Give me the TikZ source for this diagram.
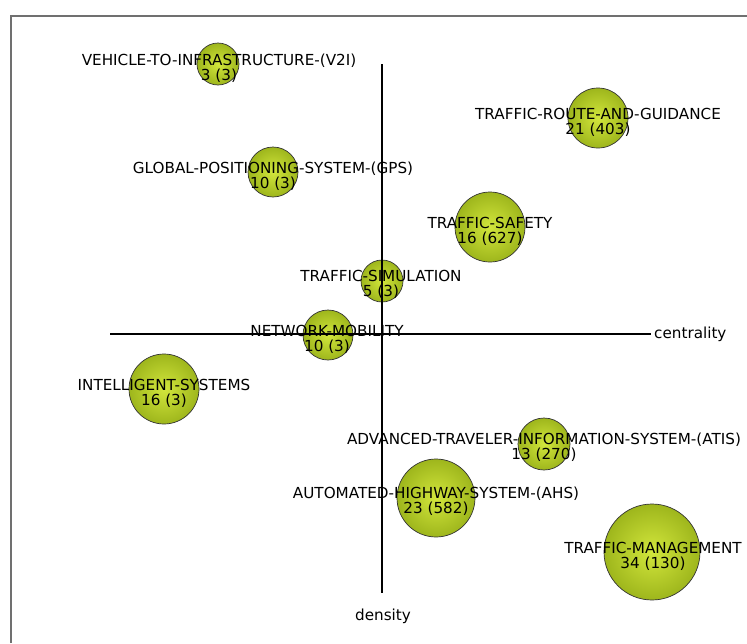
\documentclass[tikz,border=0pt]{standalone}
\usepackage{fontspec}
\setmainfont{DejaVu Sans}
\definecolor{bubin}{RGB}{210,230,60}
\definecolor{bubout}{RGB}{158,182,28}
\definecolor{framegray}{RGB}{112,112,112}
\begin{document}
\begin{tikzpicture}[x=1pt,y=-1pt,
  bubble/.style={circle, draw=black!80, line width=0.7pt, inner color=bubin, outer color=bubout, minimum size=#1, inner sep=0pt},
  lbl/.style={align=center, font=\fontsize{15.2}{15.2}\selectfont, inner sep=0pt, text=black},
  axis/.style={line width=1.6pt, black}]
\useasboundingbox (0,0) rectangle (747,643);
% frame
\coordinate (fbl) at (11,643);
\coordinate (ftl) at (11,16);
\coordinate (ftr) at (747,16);
\draw[framegray, line width=1.5pt] (fbl) -- (ftl) -- (ftr);
% bubbles
\node[bubble=42] (v2i) at (218,64) {};
\node[bubble=50] (gps) at (273,172) {};
\node[bubble=60] (route) at (598,118) {};
\node[bubble=70] (safety) at (490,227) {};
\node[bubble=42] (sim) at (382,281) {};
\node[bubble=50] (net) at (328,335) {};
\node[bubble=70] (intel) at (164,389) {};
\node[bubble=52] (atis) at (544,444) {};
\node[bubble=78] (ahs) at (436,498) {};
\node[bubble=96] (mgmt) at (652,552) {};
% axes
\coordinate (vtop) at (382,64);
\coordinate (vbot) at (382,593);
\coordinate (hleft) at (110,334);
\coordinate (hright) at (651,334);
\draw[axis] (vtop) -- (vbot);
\draw[axis] (hleft) -- (hright);
\node[lbl, anchor=west] (cent) at (654,334) {centrality};
\node[lbl] (dens) at (383,616) {density};
% labels
\node[lbl] (v2iL) at (219,68) {VEHICLE-TO-INFRASTRUCTURE-(V2I)\\3 (3)};
\node[lbl] (gpsL) at (273,176) {GLOBAL-POSITIONING-SYSTEM-(GPS)\\10 (3)};
\node[lbl] (routeL) at (598,122) {TRAFFIC-ROUTE-AND-GUIDANCE\\21 (403)};
\node[lbl] (safetyL) at (490,231) {TRAFFIC-SAFETY\\16 (627)};
\node[lbl] (simL) at (381,284.5) {TRAFFIC-SIMULATION\\5 (3)};
\node[lbl] (netL) at (327,339) {NETWORK-MOBILITY\\10 (3)};
\node[lbl] (intelL) at (164,393) {INTELLIGENT-SYSTEMS\\16 (3)};
\node[lbl] (atisL) at (544,447) {ADVANCED-TRAVELER-INFORMATION-SYSTEM-(ATIS)\\13 (270)};
\node[lbl] (ahsL) at (436,501) {AUTOMATED-HIGHWAY-SYSTEM-(AHS)\\23 (582)};
\node[lbl] (mgmtL) at (653,556) {TRAFFIC-MANAGEMENT\\34 (130)};
\end{tikzpicture}
\end{document}
